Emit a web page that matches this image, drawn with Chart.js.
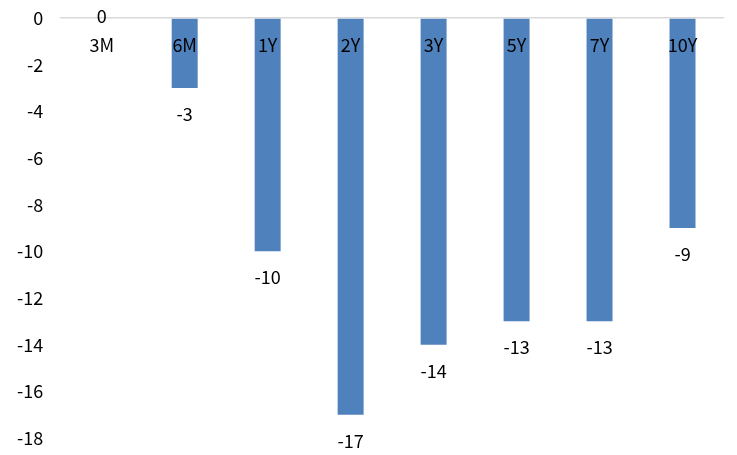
<!DOCTYPE html>
<html>
<head>
<meta charset="utf-8">
<script src="https://cdn.jsdelivr.net/npm/chart.js@4"></script>
<style>
  html, body { margin: 0; padding: 0; background: #fff; }
  #wrap { width: 737px; height: 455px; }
</style>
</head>
<body>
<div id="wrap"><canvas id="myChart" width="737" height="455"></canvas></div>
<script>
// 期限
const labels = ['3M', '6M', '1Y', '2Y', '3Y', '5Y', '7Y', '10Y'];
// 変化幅
const values = [0, -3, -10, -17, -14, -13, -13, -9];
// Y軸
const yMin = -18;
const yMax = 0;
const yStep = 2;

const FONT = '"Noto Sans CJK SC", "Noto Sans", sans-serif';

// カテゴリ名と数値ラベルを描く
const labelPlugin = {
  id: 'labelPlugin',
  afterDatasetsDraw(chart) {
    const ctx = chart.ctx;
    const xs = chart.scales.x;
    const ys = chart.scales.y;
    const zeroY = ys.getPixelForValue(0);
    ctx.save();
    ctx.fillStyle = '#000';
    ctx.font = '18px ' + FONT;
    ctx.textAlign = 'center';
    ctx.textBaseline = 'middle';
    labels.forEach((lab, i) => {
      const x = xs.getPixelForValue(i);
      ctx.fillText(lab, x, zeroY + 27);
    });
    const meta = chart.getDatasetMeta(0);
    meta.data.forEach((bar, i) => {
      const v = values[i];
      let y;
      if (v === 0) {
        y = zeroY - 2;
      } else {
        y = bar.y + 26;
      }
      ctx.fillText(String(v), bar.x, y);
    });
    ctx.restore();
  }
};

const ctx = document.getElementById('myChart').getContext('2d');
const myChart = new Chart(ctx, {
  type: 'bar',
  data: {
    labels: labels,
    datasets: [{
      data: values,
      backgroundColor: '#4F81BD',
      borderWidth: 0,
      categoryPercentage: 1,
      barPercentage: 0.313
    }]
  },
  options: {
    responsive: false,
    animation: false,
    layout: {
      padding: { left: 0, right: 13, top: 0, bottom: 0 }
    },
    plugins: {
      legend: { display: false },
      tooltip: { enabled: false }
    },
    scales: {
      x: {
        display: false
      },
      y: {
        min: yMin,
        max: yMax,
        border: { display: false },
        grid: {
          drawTicks: false,
          lineWidth: 1.5,
          color: (c) => (c.tick && c.tick.value === 0) ? '#d9d9d9' : 'rgba(0,0,0,0)'
        },
        ticks: {
          stepSize: yStep,
          padding: 17,
          color: '#000',
          font: { family: FONT, size: 18 }
        },
        afterFit(scale) {
          // 上下の余白を固定
          scale.paddingTop = 18;
          scale.paddingBottom = 17;
        }
      }
    }
  },
  plugins: [labelPlugin]
});
</script>
</body>
</html>
